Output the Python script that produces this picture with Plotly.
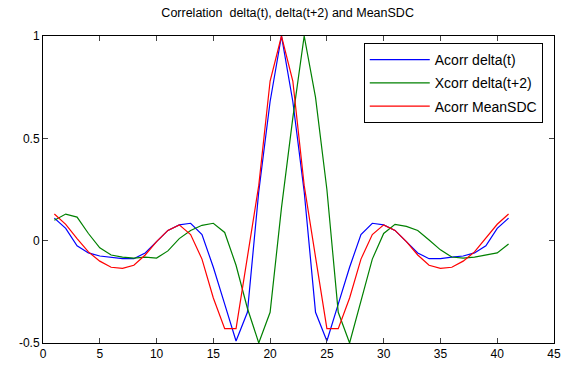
import plotly.graph_objects as go

lags = list(range(1, 42))

acorr_delta_half = [0.11, 0.06, -0.025, -0.06, -0.075, -0.08, -0.088, -0.088, -0.06, -0.005,
                    0.05, 0.077, 0.085, 0.03, -0.13, -0.31, -0.49, -0.35, 0.24, 0.68, 1.0]
acorr_delta = acorr_delta_half + acorr_delta_half[-2::-1]

acorr_meansdc_half = [0.13, 0.08, 0.01, -0.055, -0.1, -0.13, -0.135, -0.12, -0.07, -0.005,
                      0.05, 0.077, 0.03, -0.09, -0.28, -0.43, -0.43, -0.08, 0.27, 0.78, 1.0]
acorr_meansdc = acorr_meansdc_half + acorr_meansdc_half[-2::-1]

xcorr_delta2 = [0.10, 0.13, 0.115, 0.035, -0.035, -0.07, -0.08, -0.085, -0.08, -0.085,
                -0.05, 0.01, 0.05, 0.075, 0.085, 0.04, -0.12, -0.33, -0.5, -0.35,
                0.16, 0.6, 1.0, 0.7, 0.25, -0.35, -0.5, -0.3, -0.09, 0.035,
                0.08, 0.07, 0.05, 0.003, -0.045, -0.08, -0.085, -0.08, -0.07, -0.06, -0.016]

series_names = ["Acorr delta(t)", "Xcorr delta(t+2)", "Acorr MeanSDC"]
series_colors = ["#0000FF", "#008000", "#FF0000"]
series_values = [acorr_delta, xcorr_delta2, acorr_meansdc]

x_ticks = [0, 5, 10, 15, 20, 25, 30, 35, 40, 45]
y_ticks = [-0.5, 0, 0.5, 1]
y_tick_text = ["-0.5", "0", "0.5", "1"]

fig = go.Figure()
for i, (name, col, vals) in enumerate(zip(series_names, series_colors, series_values)):
    fig.add_trace(go.Scatter(x=lags, y=vals, mode="lines", name=name,
                             legendgroup=f"g{i}",
                             line=dict(color=col, width=1.2)))

font_family = "Liberation Sans, Arial, sans-serif"
fig.update_layout(
    template="none",
    width=573, height=367,
    margin=dict(l=43, r=19, t=36, b=24, autoexpand=False),
    paper_bgcolor="white", plot_bgcolor="white",
    font=dict(family=font_family, size=12, color="black"),
    title=dict(text="Correlation\u00a0 delta(t), delta(t+2) and MeanSDC",
               x=0.502, xanchor="center", y=1 - 13 / 367, yanchor="middle",
               font=dict(size=12.5, color="black")),
    showlegend=True,
    legend=dict(x=0.978, xanchor="right", y=0.977, yanchor="top",
                bgcolor="white", bordercolor="black", borderwidth=1,
                font=dict(size=14), tracegroupgap=2,
                itemwidth=60),
)
fig.update_xaxes(range=[0, 45], tickvals=x_ticks, ticks="inside", ticklen=5,
                 showline=True, linecolor="black", linewidth=1, mirror="ticks",
                 showgrid=False, zeroline=False, automargin=False,
                 tickfont=dict(size=12))
fig.update_yaxes(range=[-0.5, 1], tickvals=y_ticks, ticktext=y_tick_text,
                 ticks="inside", ticklen=5,
                 showline=True, linecolor="black", linewidth=1, mirror="ticks",
                 showgrid=False, zeroline=False, automargin=False,
                 tickfont=dict(size=12))

fig.write_html("out.html",
               config={"displayModeBar": False},
               post_script="document.body.style.margin='0';document.body.style.padding='0';")
